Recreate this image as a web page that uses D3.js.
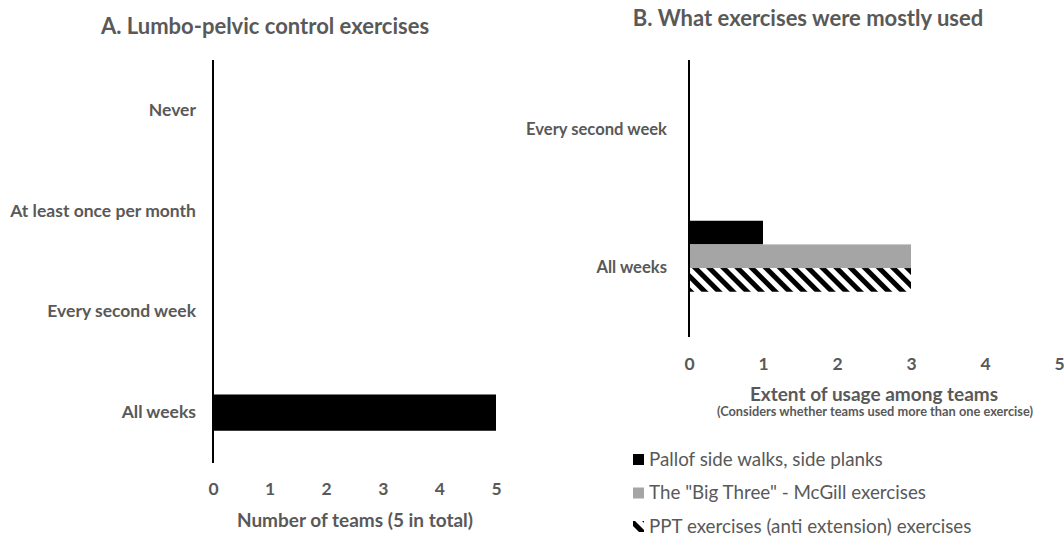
<!DOCTYPE html>
<html>
<head>
<meta charset="utf-8">
<style>
  body { margin: 0; background: #fff; }
  svg text { font-family: Lato, "Open Sans", sans-serif; fill: #595959; }
</style>
</head>
<body>
<svg width="1064" height="538"></svg>
<script src="https://d3js.org/d3.v7.min.js"></script>
<script>

// Panel A data
var catsA = ["Never", "At least once per month", "Every second week", "All weeks"];
var valuesA = [0, 0, 0, 5];

// Panel B data
var catsB = ["Every second week", "All weeks"];
var seriesB = ["Pallof side walks, side planks", "The \"Big Three\" - McGill exercises", "PPT exercises (anti extension) exercises"];
var pallof = [0, 1];
var bigThree = [0, 3];
var ppt = [0, 3];
var ticks = [0, 1, 2, 3, 4, 5];

var svg = d3.select("svg");
var font = "Lato";

var defs = svg.append("defs");
var pat = defs.append("pattern")
    .attr("id", "hatch")
    .attr("patternUnits", "userSpaceOnUse")
    .attr("width", 10).attr("height", 10)
    .attr("patternTransform", "rotate(-45)");
pat.append("rect").attr("width", 10).attr("height", 10).attr("fill", "#fff");
pat.append("rect").attr("width", 5).attr("height", 10).attr("fill", "#000");

// ---------- Panel A ----------
var xA = d3.scaleLinear().domain([0, 5]).range([213, 496]);
var yA = d3.scaleBand().domain(catsA).range([60, 463]).paddingInner(0.64).paddingOuter(0.32);

svg.append("text")
    .attr("x", 265).attr("y", 34)
    .attr("text-anchor", "middle")
    .attr("font-size", 22).attr("font-weight", 700)
    .text("A. Lumbo-pelvic control exercises");

svg.selectAll(".barA")
  .data(catsA)
  .enter().append("rect")
    .attr("x", xA(0))
    .attr("y", function(d) { return yA(d); })
    .attr("width", function(d, i) { return xA(valuesA[i]) - xA(0); })
    .attr("height", yA.bandwidth())
    .attr("fill", "#000");

var axA = svg.append("g")
    .attr("transform", "translate(" + xA(0) + ",0)")
    .call(d3.axisLeft(yA).tickSize(0).tickPadding(17));
axA.select(".domain").attr("stroke", "#000").attr("stroke-width", 2)
    .attr("d", "M0,60V463");
axA.selectAll("text").attr("font-size", 17.5).attr("font-weight", 700)
    .attr("font-family", font).attr("fill", "#595959");

var axAx = svg.append("g")
    .attr("transform", "translate(0,480)")
    .call(d3.axisBottom(xA).tickValues(ticks).tickFormat(d3.format("d")).tickSize(0).tickPadding(3));
axAx.select(".domain").remove();
axAx.selectAll("text").attr("font-size", 17.5).attr("font-weight", 700)
    .attr("font-family", font).attr("fill", "#595959");

svg.append("text")
    .attr("x", 355).attr("y", 527)
    .attr("text-anchor", "middle")
    .attr("font-size", 19).attr("font-weight", 700)
    .text("Number of teams (5 in total)");

// ---------- Panel B ----------
var xB = d3.scaleLinear().domain([0, 5]).range([689, 1059]);
var yB = d3.scaleBand().domain(catsB).range([60, 337]);
var y1 = d3.scaleBand().domain(seriesB).range([yB.bandwidth() / 2 - 47, yB.bandwidth() / 2 + 24]);
var fills = ["#000", "#a5a5a5", "url(#hatch)"];
var seriesVals = [pallof, bigThree, ppt];

svg.append("text")
    .attr("x", 808).attr("y", 26)
    .attr("text-anchor", "middle")
    .attr("font-size", 22).attr("font-weight", 700)
    .text("B. What exercises were mostly used");

var groups = svg.selectAll(".grpB")
  .data(catsB)
  .enter().append("g")
    .attr("transform", function(d) { return "translate(0," + yB(d) + ")"; });

groups.selectAll("rect")
  .data(function(d, ci) { return seriesB.map(function(s, si) { return {s: s, v: seriesVals[si][ci], f: fills[si]}; }); })
  .enter().append("rect")
    .attr("x", xB(0))
    .attr("y", function(d) { return y1(d.s); })
    .attr("width", function(d) { return xB(d.v) - xB(0); })
    .attr("height", y1.bandwidth())
    .attr("fill", function(d) { return d.f; });

var axB = svg.append("g")
    .attr("transform", "translate(" + xB(0) + ",0)")
    .call(d3.axisLeft(yB).tickSize(0).tickPadding(22));
axB.select(".domain").attr("stroke", "#000").attr("stroke-width", 2)
    .attr("d", "M0,60V337");
axB.selectAll("text").attr("font-size", 16.6).attr("font-weight", 700)
    .attr("font-family", font).attr("fill", "#595959");

var axBx = svg.append("g")
    .attr("transform", "translate(0,355)")
    .call(d3.axisBottom(xB).tickValues(ticks).tickFormat(d3.format("d")).tickSize(0).tickPadding(3));
axBx.select(".domain").remove();
axBx.selectAll("text").attr("font-size", 17.5).attr("font-weight", 700)
    .attr("font-family", font).attr("fill", "#595959");

svg.append("text")
    .attr("x", 874).attr("y", 401)
    .attr("text-anchor", "middle")
    .attr("font-size", 19).attr("font-weight", 700)
    .text("Extent of usage among teams");

svg.append("text")
    .attr("x", 875).attr("y", 416)
    .attr("text-anchor", "middle")
    .attr("font-size", 12.8).attr("font-weight", 700)
    .text("(Considers whether teams used more than one exercise)");

// Legend
var leg = svg.selectAll(".leg")
  .data(seriesB)
  .enter().append("g")
    .attr("transform", function(d, i) { return "translate(633," + (459 + i * 33.5) + ")"; });
leg.append("rect")
    .attr("x", 0).attr("y", -5).attr("width", 11).attr("height", 11)
    .attr("fill", function(d, i) { return fills[i]; });
leg.append("text")
    .attr("x", 16).attr("y", 6.5)
    .attr("font-size", 18.8)
    .text(function(d) { return d; });

</script>
</body>
</html>
